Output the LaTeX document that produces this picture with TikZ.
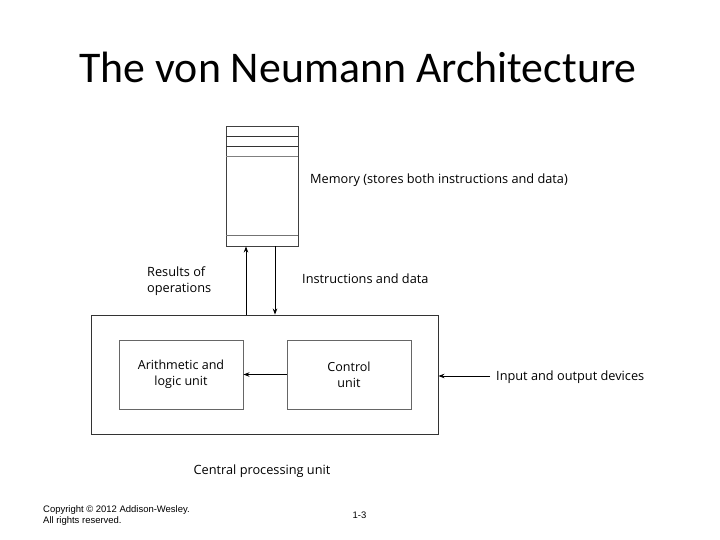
\documentclass[tikz,border=0pt]{standalone}
\usepackage{fontspec}
\setmainfont{Liberation Sans}
\newfontfamily\titlefont{Carlito}
\newfontfamily\figfont{Open Sans}
\usetikzlibrary{arrows.meta}
\begin{document}
\begin{tikzpicture}[x=1bp,y=-1bp,
  unitbox/.style={draw=black!60,line width=0.9bp,minimum width=124bp,minimum height=69bp,align=center,inner sep=0pt,font=\figfont\fontsize{12.6}{16}\selectfont},
  lbl/.style={font=\figfont\fontsize{12.8}{16}\selectfont,inner sep=0pt},
  conn/.style={draw=black,line width=0.8bp,-{Stealth[length=6bp,width=4.5bp]}}]
\useasboundingbox (0,0) rectangle (720,540);
% title
\node[font=\titlefont\fontsize{44}{48}\selectfont,inner sep=0pt] (title) at (358,67) {The von Neumann Architecture};
% memory
\node[draw=black!75,line width=0.9bp,minimum width=72bp,minimum height=120bp,inner sep=0pt] (mem) at (262,186) {};
\draw[black!80,line width=0.9bp] (226,136) -- (298,136);
\draw[black!80,line width=0.9bp] (226,146) -- (298,146);
\draw[black!50,line width=0.9bp] (226,156) -- (298,156);
\draw[black!55,line width=0.9bp] (226,235) -- (298,235);
\node[lbl,anchor=west] (memlbl) at (310,180) {Memory (stores both instructions and data)};
% CPU
\node[draw=black!80,line width=0.9bp,minimum width=347bp,minimum height=119bp,inner sep=0pt] (cpu) at (264.5,374.5) {};
\node[unitbox] (alu) at (181,374.5) {Arithmetic and\\logic unit};
\node[unitbox] (cu) at (349,374.5) {Control\\unit};
\node[lbl] (cpulbl) at (262,471) {Central processing unit};
% arrows memory <-> cpu
\coordinate (upS) at (cpu.north -| 246,0);
\coordinate (upE) at (mem.south -| 246,0);
\coordinate (dnS) at (mem.south -| 275,0);
\coordinate (dnE) at (cpu.north -| 275,0);
\draw[conn] (upS) -- (upE);
\draw[conn] (dnS) -- (dnE);
\node[lbl,align=left,anchor=west] (res) at (147,281) {Results of\\operations};
\node[lbl,anchor=west] (instr) at (302,279) {Instructions and data};
% internal arrow
\draw[conn] (cu.west) -- (alu.east);
% IO
\node[lbl,anchor=west] (io) at (496,377) {Input and output devices};
\coordinate (ioS) at (490,376);
\draw[conn] (ioS) -- (cpu.east |- ioS);
% footer
\node[font=\fontsize{9.5}{11}\selectfont,align=left,anchor=west,inner sep=0pt] (copy) at (43,515.5) {Copyright © 2012 Addison-Wesley.\\All rights reserved.};
\node[font=\fontsize{9.5}{11}\selectfont,inner sep=0pt] (pg) at (359.5,515) {1-3};
\end{tikzpicture}
\end{document}
